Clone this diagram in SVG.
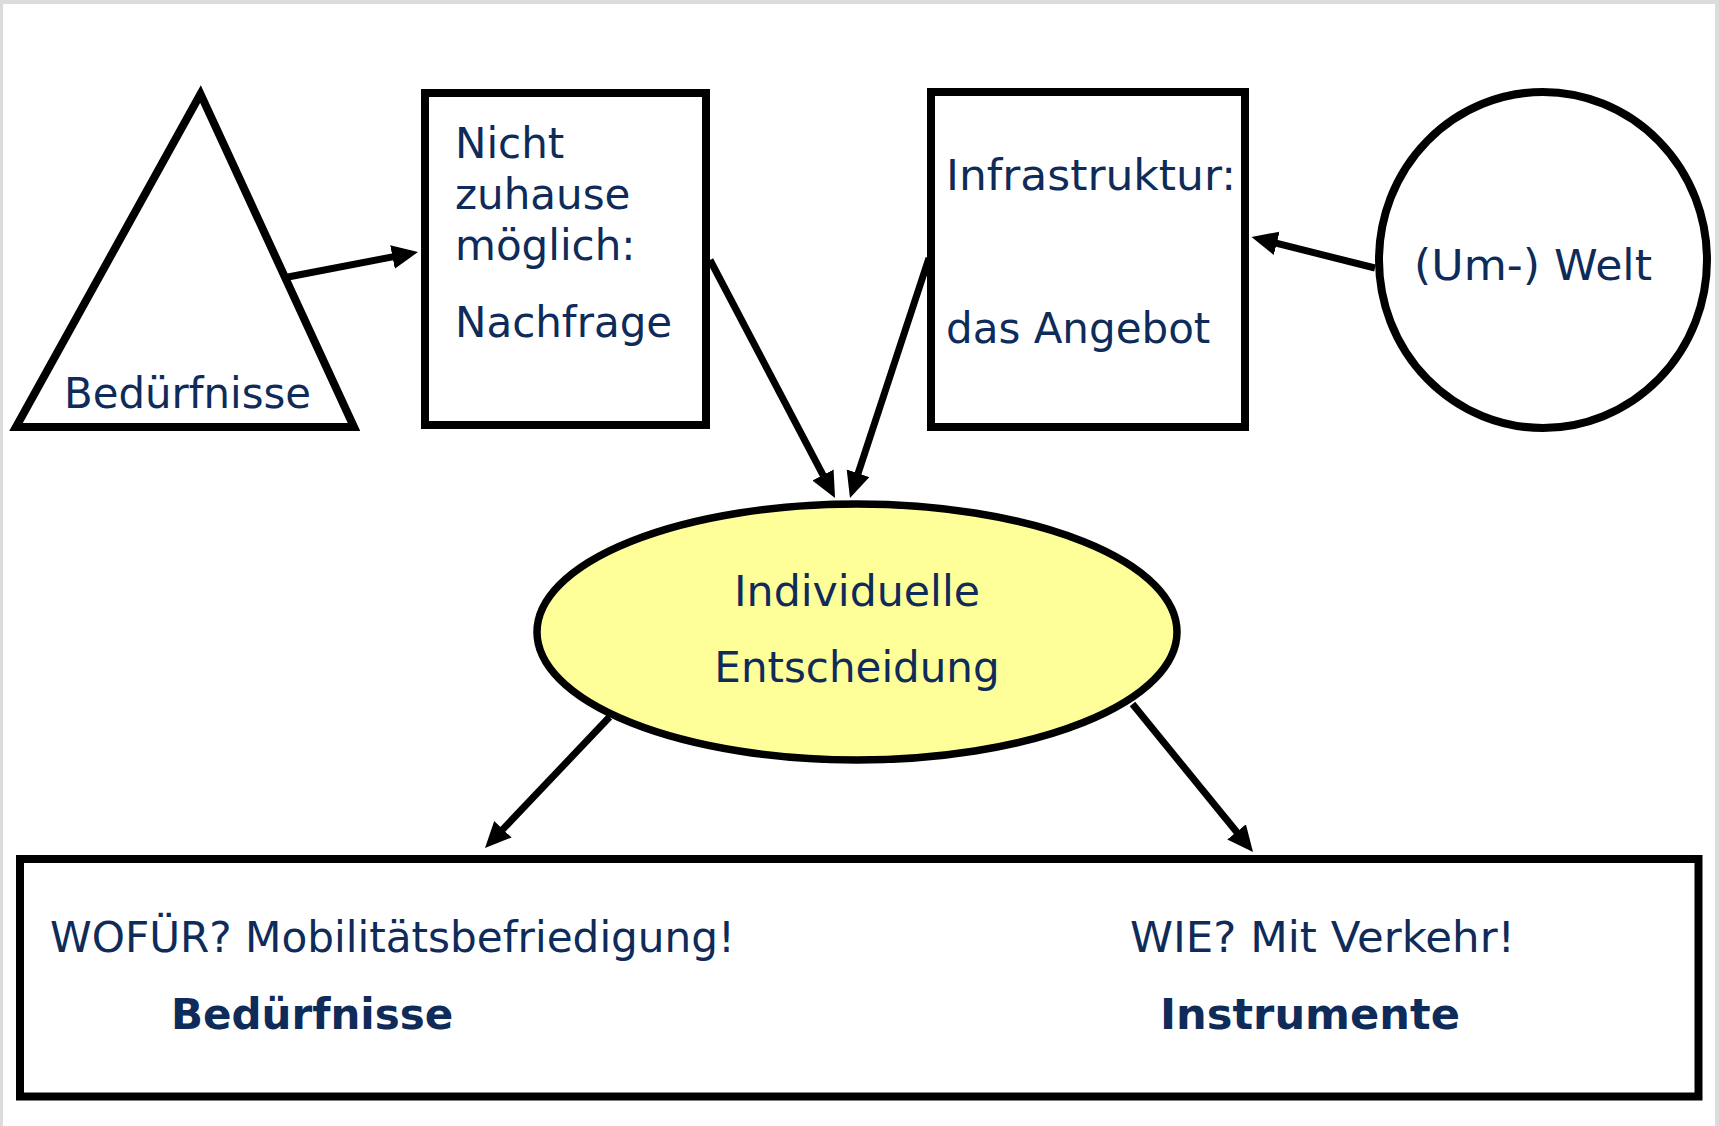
<svg xmlns="http://www.w3.org/2000/svg" width="1719" height="1126" viewBox="0 0 1719 1126">
<style>
.t{font-family:"DejaVu Sans","Verdana",sans-serif;font-size:42px;fill:#0e2b59}
.b{font-weight:bold}
.s{fill:none;stroke:#000;stroke-width:8}
.c{fill:none;stroke:#000;stroke-width:7;marker-end:url(#ah)}
</style>
<defs>
<marker id="ah" markerUnits="userSpaceOnUse" markerWidth="28" markerHeight="26" refX="16" refY="12" orient="auto">
<path d="M0,0 L26,12 L0,24 z" fill="#000"/>
</marker>
</defs>
<rect x="0" y="0" width="1719" height="1126" fill="#dcdcdc"/>
<rect x="3" y="4" width="1712" height="1122" fill="#fff"/>
<g id="node-beduerfnisse">
<polygon points="200.5,94 16,427 354,427" class="s" stroke-width="7"/>
<text x="64" y="408" class="t" textLength="247" lengthAdjust="spacingAndGlyphs">Bedürfnisse</text>
</g>
<g id="node-nachfrage">
<rect x="425" y="93" width="281" height="332" class="s"/>
<text x="455" y="158" class="t">Nicht</text>
<text x="455" y="209" class="t">zuhause</text>
<text x="455" y="260" class="t">möglich:</text>
<text x="455" y="337" class="t">Nachfrage</text>
</g>
<g id="node-infrastruktur">
<rect x="931" y="92" width="314" height="335" class="s"/>
<text x="946" y="190" class="t" textLength="290" lengthAdjust="spacingAndGlyphs">Infrastruktur:</text>
<text x="946" y="343" class="t">das Angebot</text>
</g>
<g id="node-welt">
<ellipse cx="1543" cy="260" rx="164" ry="168" class="s"/>
<text x="1414" y="280" class="t" textLength="238" lengthAdjust="spacingAndGlyphs">(Um-) Welt</text>
</g>
<g id="node-entscheidung">
<ellipse cx="857" cy="632" rx="320" ry="128" fill="#ffff99" stroke="#000" stroke-width="7.5"/>
<text x="857" y="606" class="t" text-anchor="middle" textLength="246" lengthAdjust="spacingAndGlyphs">Individuelle</text>
<text x="857" y="682" class="t" text-anchor="middle">Entscheidung</text>
</g>
<g id="node-ergebnis">
<rect x="20" y="859" width="1678.5" height="237.5" class="s"/>
<text x="50" y="951.5" class="t" textLength="685" lengthAdjust="spacingAndGlyphs">WOFÜR? Mobilitätsbefriedigung!</text>
<text x="171" y="1028.5" class="t b">Bedürfnisse</text>
<text x="1130" y="951.5" class="t" textLength="385" lengthAdjust="spacingAndGlyphs">WIE? Mit Verkehr!</text>
<text x="1160" y="1028.5" class="t b" textLength="300" lengthAdjust="spacingAndGlyphs">Instrumente</text>
</g>
<g id="connectors">
<line x1="288" y1="277" x2="408.2" y2="253.9" class="c"/>
<line x1="710" y1="260" x2="830.4" y2="489.2" class="c"/>
<line x1="929" y1="258" x2="853.1" y2="488.5" class="c"/>
<line x1="1375" y1="268" x2="1261.2" y2="239.4" class="c"/>
<line x1="609.5" y1="717" x2="491.9" y2="840.8" class="c"/>
<line x1="1132.5" y1="704" x2="1246.7" y2="844.3" class="c"/>
</g>
</svg>
